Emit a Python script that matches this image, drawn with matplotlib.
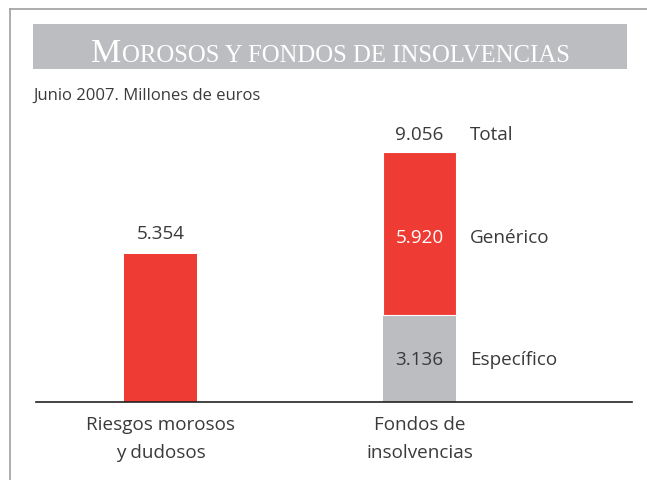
import numpy as np
import matplotlib.pyplot as plt
from matplotlib.lines import Line2D
from matplotlib.patches import Rectangle

# data (millones de euros, junio 2007)
categories = ["Riesgos morosos\ny dudosos", "Fondos de\ninsolvencias"]
morosos = 5354
especifico = 3136
generico = 5920
total = especifico + generico
fmt = lambda v: f"{v:,}".replace(",", ".")

RED = "#ee3b33"
GREY = "#bcbdc0"
TXT = "#3a3a3a"
W, H = 647, 481

plt.rcParams["font.family"] = ["Open Sans", "DejaVu Sans"]
fig = plt.figure(figsize=(W / 100, H / 100), dpi=100)

def fx(px):
    return px / W

def fy(py):
    return 1 - py / H

# frame lines
fig.add_artist(Line2D([fx(10), fx(10)], [fy(10), 0], color="#a0a0a0", lw=1.2))
fig.add_artist(Line2D([fx(10), 1], [fy(10), fy(10)], color="#a0a0a0", lw=1.2))

# title band
fig.add_artist(Rectangle((fx(33), fy(70)), fx(627) - fx(33), fy(25) - fy(70),
                         transform=fig.transFigure, color=GREY, lw=0))
t1 = fig.text(fx(91), fy(62), "M", color="white", fontsize=24.5,
              family="Liberation Serif", ha="left", va="baseline")
fig.canvas.draw()
bb = t1.get_window_extent()
fig.text(bb.x1 / W + 0.001, fy(62), "OROSOS Y FONDOS DE INSOLVENCIAS", color="white",
         fontsize=17.8, family="Liberation Serif", ha="left", va="baseline")

fig.text(fx(33), fy(96), "Junio 2007. Millones de euros", color=TXT,
         fontsize=12, ha="left", va="center")

# axes: baseline at y=403px, from x=36 to x=632
ax = fig.add_axes([fx(36), fy(403), fx(632) - fx(36), fy(110) - fy(403)])
scale = (403 - 255) / morosos
ax.set_ylim(0, (403 - 110) / scale)
ax.set_xlim(-0.481, 1.820)
bw = 0.282

ax.bar(0, morosos, width=bw, color=RED, lw=0)
ax.bar(1, especifico, width=bw, color=GREY, lw=0)
ax.bar(1, generico, bottom=especifico, width=bw, color=RED, edgecolor="white", lw=0.8)

fs = 13.6
ax.text(0, morosos + 21 / scale, fmt(morosos), ha="center", va="center", fontsize=fs, color=TXT)
ax.text(1, total + 18 / scale, fmt(total), ha="center", va="center", fontsize=fs, color=TXT)
gy = especifico + generico / 2 - 4 / scale
ax.text(1, gy, fmt(generico), ha="center", va="center", fontsize=fs, color="white")
ax.text(1, especifico / 2, fmt(especifico), ha="center", va="center", fontsize=fs, color=TXT)

xr = 1 + (470 - 419.5) / 259
ax.text(xr, total + 18 / scale, "Total", ha="left", va="center", fontsize=fs, color=TXT)
ax.text(xr, gy, "Genérico", ha="left", va="center", fontsize=fs, color=TXT)
ax.text(xr, especifico / 2, "Específico", ha="left", va="center", fontsize=fs, color=TXT)

for i, c in enumerate(categories):
    ax.text(i, -13 / scale, c, ha="center", va="top", fontsize=fs, color=TXT, linespacing=1.72)

for s in ["top", "right", "left"]:
    ax.spines[s].set_visible(False)
ax.spines["bottom"].set_color("#222222")
ax.spines["bottom"].set_linewidth(1.2)
ax.set_xticks([])
ax.set_yticks([])

fig.savefig("out.png", dpi=100)
